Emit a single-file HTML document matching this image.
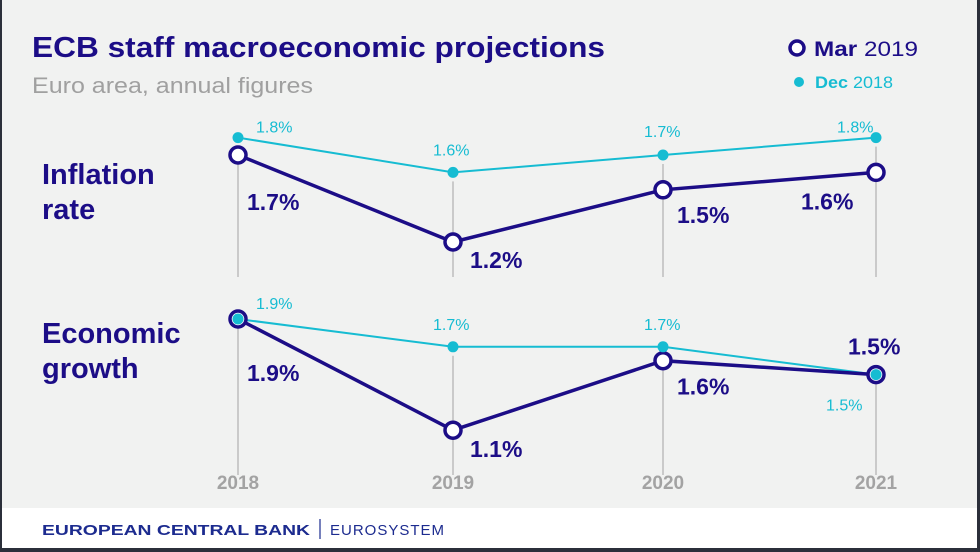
<!DOCTYPE html>
<html><head><meta charset="utf-8"><style>
html,body{margin:0;padding:0;width:980px;height:552px;overflow:hidden;background:#2b2f3a;font-family:"Liberation Sans",sans-serif}
</style></head><body>
<svg id="c" width="980" height="552" xmlns="http://www.w3.org/2000/svg">
<rect x="2" y="0" width="975" height="508" fill="#f1f2f1"/>
<rect x="2" y="508" width="975" height="40" fill="#ffffff"/>
<text x="32" y="57" font-size="29" font-weight="bold" fill="#1c0d87" textLength="573" lengthAdjust="spacingAndGlyphs">ECB staff macroeconomic projections</text>
<text x="32" y="93" font-size="22" fill="#a0a0a0" textLength="281" lengthAdjust="spacingAndGlyphs">Euro area, annual figures</text>
<g>
<circle cx="797" cy="48" r="7" fill="#fff" stroke="#1c0d87" stroke-width="3.5"/>
<text x="814" y="56" font-size="21" fill="#1c0d87" textLength="104" lengthAdjust="spacingAndGlyphs"><tspan font-weight="bold">Mar</tspan> 2019</text>
<circle cx="799" cy="82" r="5" fill="#16bcd2"/>
<text x="815" y="88" font-size="17" fill="#16bcd2" textLength="78" lengthAdjust="spacingAndGlyphs"><tspan font-weight="bold">Dec</tspan> 2018</text>
</g>
<text x="42" y="184" font-size="29" font-weight="bold" fill="#1c0d87">Inflation</text>
<text x="42" y="219" font-size="29" font-weight="bold" fill="#1c0d87">rate</text>
<text x="42" y="343" font-size="29" font-weight="bold" fill="#1c0d87">Economic</text>
<text x="42" y="378" font-size="29" font-weight="bold" fill="#1c0d87">growth</text>
<g id="plot"></g>
<text x="42" y="535" font-size="15" font-weight="bold" fill="#1c2b8f" textLength="268" lengthAdjust="spacingAndGlyphs">EUROPEAN CENTRAL BANK</text>
<line x1="320" y1="519" x2="320" y2="539" stroke="#1c2b8f" stroke-width="1.2"/>
<text x="330" y="535" font-size="15" fill="#1c2b8f" letter-spacing="1">EUROSYSTEM</text>
</svg>
<script>
const years = ["2018","2019","2020","2021"];
const inflMar = [1.7,1.2,1.5,1.6];
const inflDec = [1.8,1.6,1.7,1.8];
const growMar = [1.9,1.1,1.6,1.5];
const growDec = [1.9,1.7,1.7,1.5];
const NS="http://www.w3.org/2000/svg";
const g=document.getElementById('plot');
const xs=[238,453,663,876];
const x=i=>xs[i];
const yInfl=v=>155-(v-1.7)*174;
const yGrow=v=>319-(v-1.9)*139;
function el(t,a){const e=document.createElementNS(NS,t);for(const k in a)e.setAttribute(k,a[k]);g.appendChild(e);return e;}
function panel(mar,dec,y,base,key,marOff,decOff){
  mar.forEach((v,i)=>{const top=Math.min(y(v),y(dec[i]))+9;
    const l=el('line',{x1:x(i),x2:x(i),y1:top,y2:base,stroke:'#bdbdbd','stroke-width':1.5});
    
    });
  const pd=el('polyline',{points:dec.map((v,i)=>x(i)+','+y(v)).join(' '),fill:'none',stroke:'#16bcd2','stroke-width':2});
  
  
  const pm=el('polyline',{points:mar.map((v,i)=>x(i)+','+y(v)).join(' '),fill:'none',stroke:'#1c0d87','stroke-width':3.5});
  
  
  mar.forEach((v,i)=>{const c=el('circle',{cx:x(i),cy:y(v),r:8,fill:'#fff',stroke:'#1c0d87','stroke-width':3.5});
    
    });
  dec.forEach((v,i)=>{const c=el('circle',{cx:x(i),cy:y(v),r:5.5,fill:'#16bcd2'});
    
    });
  mar.forEach((v,i)=>{const o=marOff[i];const t=el('text',{x:x(i)+o[0],y:y(v)+o[1],'font-size':23,'font-weight':'bold',fill:'#1c0d87','text-anchor':o[2]||'start'});
    t.textContent=v.toFixed(1)+'%';
    
    });
  dec.forEach((v,i)=>{const o=decOff[i];const t=el('text',{x:x(i)+o[0],y:y(v)+o[1],'font-size':16,fill:'#16bcd2','text-anchor':o[2]||'start'});
    t.textContent=v.toFixed(1)+'%';
    
    });
}
panel(inflMar,inflDec,yInfl,277,'inflation',
  [[9,55],[17,26],[14,33],[-75,37]],
  [[18,-5],[-20,-17],[-19,-18],[-39,-5]]);
panel(growMar,growDec,yGrow,475,'growth',
  [[9,62],[17,27],[14,34],[-28,-20]],
  [[18,-10],[-20,-17],[-19,-17],[-50,36]]);
years.forEach((yr,i)=>{const t=el('text',{x:x(i),y:489,'font-size':19,'font-weight':'bold',fill:'#a3a3a3','text-anchor':'middle'});
  t.textContent=yr;
  
  });
</script>
</body></html>
